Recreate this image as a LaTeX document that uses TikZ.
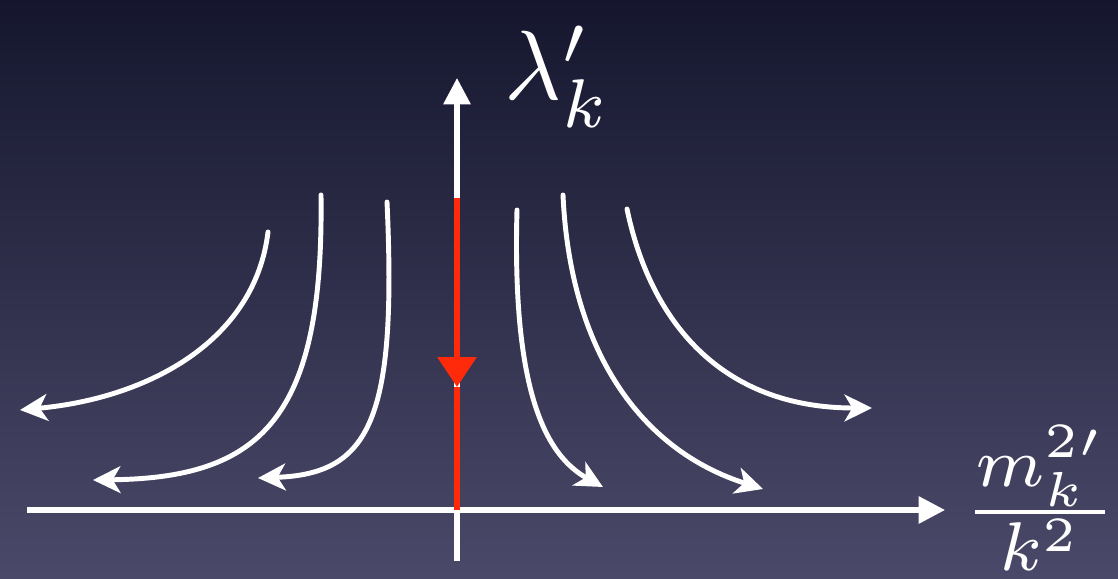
\documentclass[tikz,border=0pt]{standalone}
\usepackage{amsmath,amssymb}
\usetikzlibrary{arrows.meta}
\definecolor{bgTop}{HTML}{15162E}
\definecolor{bgBottom}{HTML}{4B4969}
\definecolor{flowRed}{HTML}{FF2A0A}
\tikzset{
    axis/.style={white, line width=1.45pt, -{Triangle[length=7.5pt,width=7.5pt]}},
    flowline/.style={white, line width=1.4pt, line cap=round,
                     -{Stealth[length=7.8pt,width=7.6pt,inset=2.2pt]}},
    fixedflow/.style={flowRed, line width=1.7pt},
    label text/.style={text=white, inner sep=0pt, scale=2.8, font=\normalsize},
}

\begin{document}
\begin{tikzpicture}[x=0.01cm, y=-0.01cm]

% ---------------------------------------------------------------------------
% Background
% ---------------------------------------------------------------------------
\useasboundingbox (0,0) rectangle (1118,579);
\shade[top color=bgTop, bottom color=bgBottom] (0,0) rectangle (1118,579);

% ---------------------------------------------------------------------------
% Axes
% ---------------------------------------------------------------------------
\coordinate (xstart) at (27,510);
\coordinate (xend)   at (945,510);
\coordinate (ystart) at (457,561);
\coordinate (yend)   at (457,78);
\coordinate (origin) at (457,510);

\draw[axis] (xstart) -- (xend);
\draw[axis] (ystart) -- (yend);

\node[label text, anchor=base west] (lamlabel) at (503,100) {$\lambda'_k$};
\node[label text, anchor=base] (ratiolabel) at (1040,537)
    {$\frac{m_k^{2\prime}}{k^2}$};

% ---------------------------------------------------------------------------
% Flow lines
% ---------------------------------------------------------------------------
\coordinate (l1s) at (268,232);  \coordinate (l1e) at (20,410);
\coordinate (l2s) at (321,195);  \coordinate (l2e) at (93,480);
\coordinate (l3s) at (387,202);  \coordinate (l3e) at (258,478);
\coordinate (r1s) at (517,210);  \coordinate (r1e) at (603,487);
\coordinate (r2s) at (563,195);  \coordinate (r2e) at (763,489);
\coordinate (r3s) at (627,209);  \coordinate (r3e) at (872,408);

\draw[flowline] (l1s) .. controls (255,340) and (150,398) .. (l1e);
\draw[flowline] (l2s) .. controls (324,420) and (260,478) .. (l2e);
\draw[flowline] (l3s) .. controls (397,420) and (370,474) .. (l3e);
\draw[flowline] (r1s) .. controls (512,390) and (545,455) .. (r1e);
\draw[flowline] (r2s) .. controls (570,350) and (640,450) .. (r2e);
\draw[flowline] (r3s) .. controls (650,320) and (720,408) .. (r3e);

% Fixed line on the vertical axis
\coordinate (fixtop) at (457,198);
\coordinate (fixmid) at (457,387);
\draw[fixedflow, -{Triangle[length=8.5pt,width=10.8pt]}] (fixtop) -- (fixmid);
\draw[fixedflow] (fixmid) -- (origin);

\end{tikzpicture}
\end{document}
